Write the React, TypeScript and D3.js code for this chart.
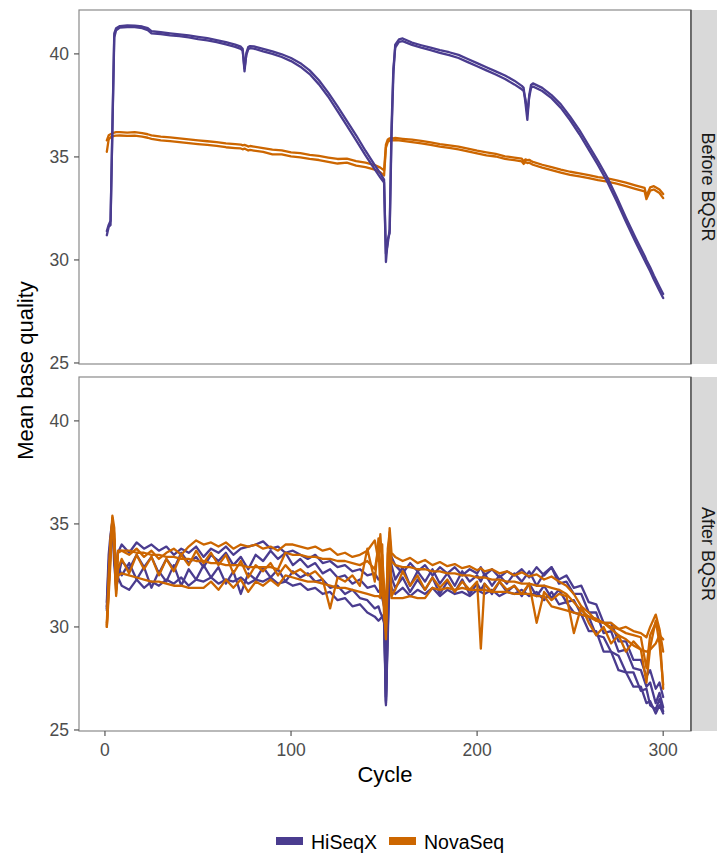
import React from "react";
import * as d3 from "d3";

// ---------- DATA ----------
const panels = ["Before BQSR", "After BQSR"];
const platforms = ["HiSeqX", "NovaSeq"];
const platformColors = ["#4A3C8F", "#CC6600"];
const yTicks = [25, 30, 35, 40];
const xTicks = [0, 100, 200, 300];

// Before BQSR (top panel)
const topCycles = [1,2,3,4,5,6,8,12,16,20,
 23,25,30,35,40,45,50,55,60,65,
 70,73,74,75,76,77,78,80,85,90,
 95,100,105,110,115,120,125,130,135,140,
 145,148,150,151,152,153,154,155,156,158,
 160,165,170,175,180,185,190,195,200,205,
 210,215,220,224,225,226,227,228,229,230,
 235,240,245,250,255,260,265,270,275,280,
 285,290,291,293,295,298,300];

const hiseqTopA = [31.2,31.6,31.7,36.5,41.0,41.25,41.35,41.38,41.37,41.33,
 41.25,41.1,41.05,41.0,40.95,40.9,40.83,40.76,40.67,40.57,
 40.45,40.35,40.25,39.15,40.05,40.33,40.38,40.36,40.24,40.12,
 39.98,39.8,39.55,39.2,38.72,38.12,37.45,36.75,36.05,35.3,
 34.6,34.2,33.9,29.9,31.0,31.3,36.0,39.0,40.45,40.7,
 40.75,40.55,40.42,40.3,40.18,40.08,39.95,39.75,39.55,39.35,
 39.15,38.95,38.7,38.45,38.35,37.6,36.8,38.0,38.5,38.57,
 38.35,38.0,37.55,36.95,36.3,35.55,34.8,34.0,33.05,32.05,
 31.1,30.2,30.0,29.65,29.25,28.7,28.35];

const hiseqTopB = [31.4,31.7,31.9,36.3,40.8,41.15,41.28,41.3,41.3,41.25,
 41.15,41.0,40.96,40.9,40.86,40.8,40.72,40.66,40.57,40.46,
 40.34,40.24,40.15,39.3,39.95,40.22,40.28,40.26,40.12,40.0,
 39.85,39.65,39.38,39.02,38.52,37.92,37.22,36.52,35.8,35.08,
 34.4,34.0,33.75,30.3,30.8,31.5,36.4,39.3,40.3,40.58,
 40.62,40.44,40.3,40.18,40.05,39.94,39.8,39.6,39.4,39.2,
 39.0,38.78,38.52,38.28,38.2,37.8,37.1,37.9,38.35,38.42,
 38.2,37.85,37.38,36.78,36.1,35.35,34.6,33.78,32.85,31.85,
 30.9,29.98,29.8,29.45,29.05,28.5,28.15];

const novaTopA = [35.8,36.05,36.1,36.15,36.18,36.2,36.2,36.18,36.2,36.15,
 36.1,36.05,35.98,35.95,35.9,35.85,35.8,35.76,35.72,35.66,
 35.62,35.6,35.56,35.58,35.55,35.5,35.53,35.5,35.43,35.35,
 35.32,35.22,35.18,35.1,35.05,34.97,34.9,34.92,34.8,34.72,
 34.6,34.48,34.35,35.6,35.85,35.9,35.92,35.9,35.92,35.9,
 35.88,35.84,35.78,35.7,35.62,35.56,35.5,35.4,35.3,35.22,
 35.15,35.03,34.97,34.92,34.78,34.88,34.84,34.86,34.8,34.76,
 34.62,34.5,34.38,34.28,34.2,34.12,34.02,33.96,33.86,33.75,
 33.62,33.5,33.1,33.52,33.58,33.42,33.2];

const novaTopB = [35.25,35.85,35.95,36.0,36.02,36.03,36.04,36.02,36.03,35.98,
 35.93,35.88,35.8,35.77,35.72,35.67,35.62,35.58,35.54,35.47,
 35.43,35.41,35.37,35.4,35.36,35.31,35.34,35.31,35.24,35.12,
 35.12,35.03,34.98,34.9,34.85,34.76,34.68,34.72,34.58,34.5,
 34.38,34.25,34.1,35.45,35.72,35.8,35.82,35.8,35.82,35.8,
 35.78,35.72,35.66,35.58,35.5,35.44,35.37,35.27,35.17,35.08,
 35.02,34.9,34.84,34.78,34.66,34.75,34.7,34.72,34.67,34.62,
 34.48,34.36,34.24,34.13,34.05,33.97,33.87,33.8,33.7,33.58,
 33.45,33.33,32.95,33.36,33.42,33.25,33.0];

// After BQSR (bottom panel)
const bottomCycles = [1,2,3,4,5,6,7,9,13,17,
 21,25,29,33,37,41,45,49,53,57,
 61,65,69,73,77,81,85,89,93,97,
 101,105,109,113,117,121,125,129,133,137,
 141,145,147,148,149,150,151,152,153,154,
 156,160,164,168,172,176,180,184,188,192,
 196,200,202,204,208,212,216,220,224,228,
 232,236,240,244,248,252,256,260,264,268,
 272,276,280,284,288,291,293,296,298,300];

const hiseqBot1 = [31.0,33.0,34.2,35.0,33.5,32.5,33.6,34.0,33.6,34.1,
 33.8,34.0,33.7,33.9,33.5,33.8,33.6,33.9,33.4,33.8,
 33.6,33.9,33.5,33.8,33.9,34.0,34.15,33.8,33.9,33.6,
 33.7,33.5,33.3,33.5,33.1,33.2,32.9,33.0,32.7,32.8,
 32.5,32.6,32.3,32.4,32.0,31.5,26.6,31.0,34.0,33.4,
 33.0,32.6,33.1,32.7,33.0,32.5,32.9,32.6,32.9,32.5,
 32.8,32.6,32.9,32.5,32.8,32.4,32.7,32.5,32.8,32.4,
 32.9,32.5,32.9,32.3,32.5,31.9,32.0,31.2,31.1,30.2,
 30.2,29.3,29.3,28.4,28.4,27.6,27.9,27.0,27.3,26.6];

const hiseqBot2 = [30.8,32.5,34.0,34.8,34.2,33.0,32.4,33.2,32.8,33.5,
 32.9,33.4,32.6,33.3,32.8,33.6,33.1,33.4,32.9,33.5,
 33.2,33.6,33.0,33.4,32.8,33.5,33.2,33.7,33.3,33.6,
 33.0,33.3,32.9,33.1,32.6,32.8,32.4,32.5,32.1,32.3,
 31.9,32.0,31.7,31.8,31.4,31.0,26.2,30.4,33.6,33.0,
 32.3,32.9,32.0,32.7,32.2,32.8,32.1,32.6,32.0,32.7,
 32.2,32.5,32.2,32.6,32.0,32.5,32.1,32.6,32.2,32.7,
 32.0,32.6,32.9,32.1,32.2,31.6,31.6,30.7,30.7,29.7,
 29.8,28.8,28.9,28.0,27.9,27.1,27.3,26.3,26.8,26.1];

const hiseqBot3 = [31.2,33.5,34.5,35.1,33.0,32.0,33.0,32.5,33.1,32.3,
 32.9,31.9,32.7,32.2,33.0,32.0,32.8,32.3,33.0,32.4,
 32.9,32.1,32.7,31.6,32.6,32.3,32.9,32.4,32.8,32.2,
 32.7,32.4,32.6,32.2,32.3,31.9,32.0,31.6,31.8,31.4,
 31.3,30.9,31.0,30.7,30.5,30.2,26.3,29.5,33.2,32.4,
 31.9,32.4,31.7,32.3,31.8,32.4,31.6,32.2,31.7,32.3,
 31.6,32.1,31.8,32.1,31.6,32.2,31.7,32.0,31.5,32.1,
 31.5,32.0,31.4,31.8,31.2,31.3,30.6,30.5,29.6,29.5,
 28.8,28.6,27.8,27.8,26.9,27.0,26.2,26.0,26.5,25.9];

const hiseqBot4 = [30.9,32.0,33.8,34.6,33.8,31.8,32.4,32.0,31.8,32.3,
 31.9,32.2,32.0,32.3,32.1,32.4,32.0,32.3,32.2,32.4,
 32.1,32.3,32.2,32.4,32.1,32.3,32.2,32.4,32.1,32.2,
 32.0,32.1,31.8,31.9,31.6,31.7,31.3,31.4,31.0,31.1,
 30.7,30.5,30.3,30.4,30.5,30.6,26.4,30.0,32.2,31.9,
 31.6,31.9,31.5,31.8,31.6,31.9,31.5,31.8,31.6,31.7,
 31.5,31.8,31.7,31.6,31.8,31.5,31.7,31.6,31.8,31.5,
 31.7,31.3,31.7,31.1,31.2,30.7,30.6,29.8,29.8,28.8,
 28.8,27.9,27.8,27.1,27.1,26.3,26.4,25.8,26.2,25.8];

const novaBot1 = [30.0,32.0,34.0,35.4,34.8,31.5,33.7,33.7,33.5,33.8,
 33.4,33.7,33.3,33.6,33.8,33.5,33.9,34.2,34.0,34.1,
 33.9,34.1,33.8,34.0,33.9,34.0,33.8,33.9,33.7,34.0,
 34.0,33.9,33.8,33.9,33.7,33.8,33.5,33.6,33.4,33.5,
 33.7,34.2,33.2,34.5,33.0,31.0,29.4,32.5,34.8,33.6,
 33.4,33.2,33.35,33.1,33.25,33.0,33.15,32.95,33.05,32.85,
 32.95,32.75,32.85,32.7,32.8,32.6,32.7,32.5,32.65,32.45,
 32.55,32.3,32.45,32.2,32.0,31.6,31.0,30.7,30.3,30.2,
 30.2,29.9,30.0,29.8,29.7,29.5,30.0,30.6,29.9,28.8];

const novaBot2 = [30.2,32.5,34.3,35.2,34.5,32.0,33.6,33.7,33.7,33.6,
 33.6,33.5,33.5,33.4,33.4,33.3,33.3,33.2,33.2,33.1,
 33.1,33.0,33.0,33.0,32.9,32.9,32.9,32.9,32.8,33.6,
 33.5,33.5,33.4,33.4,33.3,33.3,33.2,33.2,33.1,33.0,
 33.2,32.8,33.8,32.6,33.5,32.0,30.5,33.5,34.4,33.2,
 33.0,32.9,32.9,32.8,32.8,32.7,32.7,32.6,32.6,32.5,
 32.5,32.4,32.4,32.4,32.3,32.3,32.2,32.2,32.1,32.1,
 32.0,32.0,31.9,31.8,31.6,31.2,30.8,30.5,30.3,30.2,
 30.0,29.9,29.7,29.6,29.5,28.0,29.6,30.2,29.8,27.0];

const novaBot3 = [30.1,31.8,33.6,35.3,34.0,31.6,32.8,33.3,32.6,33.5,
 32.8,33.4,32.5,33.3,32.7,33.5,33.0,33.7,33.1,33.6,
 33.0,33.5,32.6,33.2,32.4,33.0,32.7,33.1,32.5,33.0,
 32.6,32.8,32.5,32.7,32.3,30.9,32.4,32.2,32.5,32.0,
 33.8,32.2,34.3,31.5,34.0,30.5,29.8,33.8,34.6,31.5,
 31.8,32.7,32.0,32.5,31.8,32.4,31.9,32.3,31.7,32.2,
 31.8,32.2,28.95,32.1,31.7,32.2,31.8,32.0,31.6,32.1,
 30.2,31.7,31.3,31.6,31.5,29.7,31.0,30.2,29.6,30.0,
 29.2,29.6,28.8,29.3,28.9,27.3,29.0,30.3,29.2,27.2];

const novaBot4 = [30.0,31.5,33.2,35.0,34.2,31.8,32.5,32.6,32.5,32.4,
 32.3,32.2,32.2,32.1,32.0,32.0,31.9,31.9,31.9,32.2,
 31.8,32.3,31.9,32.3,31.7,32.2,32.0,32.3,32.0,32.5,
 32.4,32.3,32.2,32.2,32.1,32.0,31.9,31.9,31.8,31.7,
 31.6,31.5,31.5,31.4,32.0,31.0,30.0,32.8,33.5,31.4,
 31.4,31.4,31.5,31.4,31.4,31.9,31.8,31.9,31.8,31.9,
 31.8,31.8,31.8,31.8,31.7,31.7,31.7,31.6,31.6,31.6,
 31.5,31.5,31.0,30.9,30.8,30.7,30.6,30.5,30.4,30.2,
 29.9,29.6,29.4,29.1,28.9,28.8,28.9,29.2,29.6,29.4];

// series table built from the arrays: [panel index, platform index, cycles, values]
const seriesList: [number, number, number[], number[]][] = [
  [0, 1, topCycles, novaTopA],
  [0, 1, topCycles, novaTopB],
  [0, 0, topCycles, hiseqTopA],
  [0, 0, topCycles, hiseqTopB],
  [1, 0, bottomCycles, hiseqBot1],
  [1, 0, bottomCycles, hiseqBot2],
  [1, 0, bottomCycles, hiseqBot3],
  [1, 0, bottomCycles, hiseqBot4],
  [1, 1, bottomCycles, novaBot1],
  [1, 1, bottomCycles, novaBot2],
  [1, 1, bottomCycles, novaBot3],
  [1, 1, bottomCycles, novaBot4],
];

// ---------- LAYOUT ----------
const FONT = "'Liberation Sans', Arial, Helvetica, sans-serif";
const W = 717;
const H = 857;
const plotLeft = 79;
const plotRight = 691;
const stripW = 28;
const panelTops = [10, 377];
const panelH = 354;

export default function App() {
  const x = d3.scaleLinear().domain([-13.95, 314.95]).range([plotLeft, plotRight]);
  const yScales = panelTops.map((t) =>
    d3.scaleLinear().domain([24.95, 42.13]).range([t + panelH, t])
  );

  return (
    <svg
      width={W}
      height={H}
      style={{ position: "absolute", left: 0, top: 0, display: "block", background: "#fff" }}
      fontFamily={FONT}
    >
      <rect x={0} y={0} width={W} height={H} fill="#fff" />
      {panels.map((name, p) => {
        const y = yScales[p];
        const top = panelTops[p];
        const line = (cyc: number[]) =>
          d3
            .line<number>()
            .x((_, i) => x(cyc[i]))
            .y((v) => y(v));
        return (
          <g key={name}>
            <clipPath id={`clip${p}`}>
              <rect x={plotLeft} y={top} width={plotRight - plotLeft} height={panelH} />
            </clipPath>
            <g clipPath={`url(#clip${p})`}>
              {seriesList
                .filter((s) => s[0] === p)
                .map((s, i) => (
                  <path
                    key={i}
                    d={line(s[2])(s[3]) || ""}
                    fill="none"
                    stroke={platformColors[s[1]]}
                    strokeWidth={2.3}
                    strokeLinejoin="round"
                    strokeLinecap="round"
                  />
                ))}
            </g>
            <rect
              x={plotLeft}
              y={top}
              width={plotRight - plotLeft}
              height={panelH}
              fill="none"
              stroke="#8a8a8a"
              strokeWidth={1.2}
            />
            {/* strip */}
            <rect x={plotRight} y={top} width={stripW} height={panelH} fill="#D9D9D9" />
            <line x1={plotRight} x2={plotRight} y1={top} y2={top + panelH} stroke="#555" strokeWidth={1.6} />
            <text
              transform={`translate(${plotRight + 17},${top + panelH / 2}) rotate(90)`}
              textAnchor="middle"
              dominantBaseline="central"
              fontSize={18}
              fill="#1a1a1a"
            >
              {name}
            </text>
            {/* y axis */}
            {yTicks.map((t) => (
              <g key={t}>
                <line x1={plotLeft - 5} x2={plotLeft} y1={y(t)} y2={y(t)} stroke="#555" strokeWidth={1.2} />
                <text
                  x={plotLeft - 10}
                  y={y(t)}
                  dy="0.36em"
                  textAnchor="end"
                  fontSize={17.5}
                  fill="#4d4d4d"
                >
                  {t}
                </text>
              </g>
            ))}
          </g>
        );
      })}
      {/* x axis */}
      {xTicks.map((t) => (
        <g key={t}>
          <line
            x1={x(t)}
            x2={x(t)}
            y1={panelTops[1] + panelH}
            y2={panelTops[1] + panelH + 5}
            stroke="#555"
            strokeWidth={1.2}
          />
          <text x={x(t)} y={756} textAnchor="middle" fontSize={17.5} fill="#4d4d4d">
            {t}
          </text>
        </g>
      ))}
      <text x={(plotLeft + plotRight) / 2} y={782} textAnchor="middle" fontSize={22} fill="#000">
        Cycle
      </text>
      <text
        transform={`translate(33,${(panelTops[0] + panelTops[1] + panelH) / 2}) rotate(-90)`}
        textAnchor="middle"
        fontSize={22}
        fill="#000"
      >
        Mean base quality
      </text>
      {/* legend */}
      {platforms.map((pl, i) => {
        const lx = [276, 389][i];
        return (
          <g key={pl}>
            <rect x={lx} y={837} width={27} height={8} fill={platformColors[i]} />
            <text x={lx + 35} y={849} fontSize={19.5} fill="#000">
              {pl}
            </text>
          </g>
        );
      })}
    </svg>
  );
}
